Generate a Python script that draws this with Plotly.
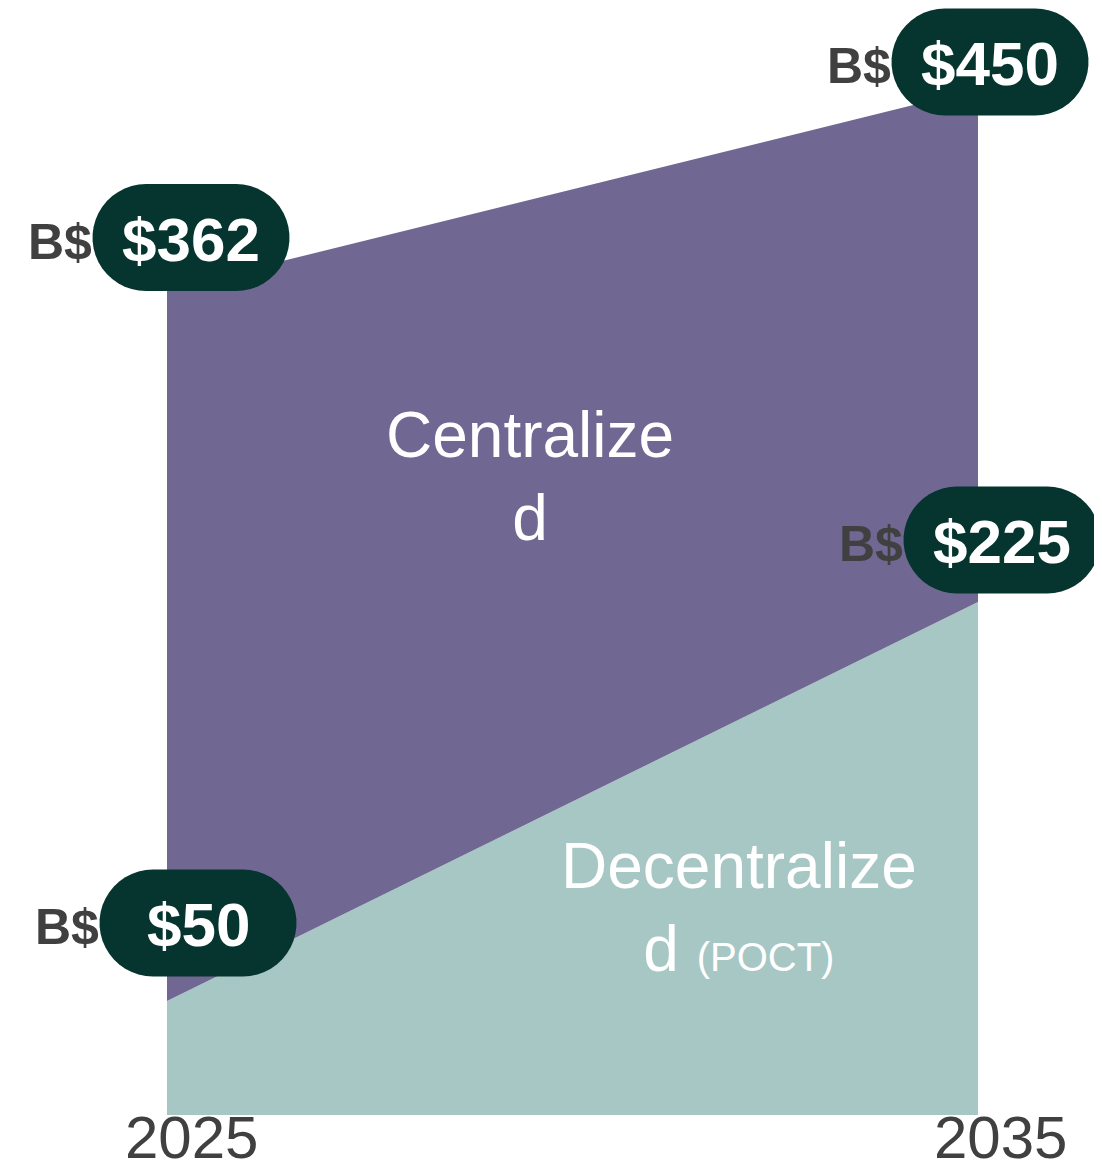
import numpy as np
import plotly.graph_objects as go

# ---- data ----
years = [2025, 2035]
decentralized = [50, 225]
totals = [362, 450]
centralized = [t - d for t, d in zip(totals, decentralized)]
year_labels = ["2025", "2035"]
series_names = ["Decentralized (POCT)", "Centralized"]

# ---- style ----
PURPLE = "#706892"
TEAL = "#A7C7C5"
DARK = "#06342F"
GRAY = "#404040"
FONT = "Liberation Sans, Arial, sans-serif"
Y_MAX = 485.5
X0, X1 = years[0], years[-1]

fig = go.Figure()
fig.add_trace(go.Scatter(x=years, y=decentralized, stackgroup="one", mode="lines",
                         line=dict(width=0), fillcolor=TEAL, name=series_names[0],
                         hoverinfo="skip"))
fig.add_trace(go.Scatter(x=years, y=centralized, stackgroup="one", mode="lines",
                         line=dict(width=0), fillcolor=PURPLE, name=series_names[1],
                         hoverinfo="skip"))


def stadium_path(cx, cy, w, h, n=24):
    r = h / 2.0
    pts = []
    for a in np.linspace(-np.pi / 2, np.pi / 2, n):
        pts.append((cx + w / 2 - r + r * np.cos(a), cy + r * np.sin(a)))
    for a in np.linspace(np.pi / 2, 3 * np.pi / 2, n):
        pts.append((cx - w / 2 + r + r * np.cos(a), cy + r * np.sin(a)))
    return "M " + " L ".join(f"{x:.2f},{y:.2f}" for x, y in pts) + " Z"


# pill labels: (x year, y value, text, xshift, yshift)
pills = [
    (years[0], totals[0], f"${totals[0]}", 24, 52),
    (years[1], totals[1], f"${totals[1]}", 12, 27),
    (years[1], decentralized[1], f"${decentralized[1]}", 24, 62),
    (years[0], decentralized[0], f"${decentralized[0]}", 31, 78),
]
PW, PH = 197, 107
for x, y, txt, dx, dy in pills:
    fig.add_shape(type="path", xref="paper", yref="paper", xsizemode="pixel", ysizemode="pixel",
                  xanchor=(x - X0) / (X1 - X0), yanchor=y / Y_MAX,
                  path=stadium_path(dx, dy, PW, PH),
                  fillcolor=DARK, line=dict(width=0), layer="above")
    fig.add_annotation(x=x, y=y, xref="x", yref="y", text=f"<b>{txt}</b>", showarrow=False,
                       xshift=dx, yshift=dy - 2, xanchor="center", yanchor="middle",
                       font=dict(family=FONT, size=62, color="white"))
    fig.add_annotation(x=x, y=y, xref="x", yref="y", text="<b>B$</b>", showarrow=False,
                       xshift=dx - PW / 2 + 1, yshift=dy - 4, xanchor="right", yanchor="middle",
                       font=dict(family=FONT, size=50, color=GRAY))

# year labels
for x, lab, dx, dy in [(years[0], year_labels[0], 24, -22), (years[1], year_labels[1], 22, -22)]:
    fig.add_annotation(x=x, y=0, xref="x", yref="y", text=lab, showarrow=False,
                       xshift=dx, yshift=dy, xanchor="center", yanchor="middle",
                       font=dict(family=FONT, size=60, color=GRAY))

# area labels
fig.add_annotation(x=2029.48, y=280, xref="x", yref="y", text="Centralize<br>d",
                   showarrow=False, xanchor="center", yanchor="middle", align="center",
                   font=dict(family=FONT, size=64, color="white"))
fig.add_annotation(x=2032.05, y=91, xref="x", yref="y",
                   text="Decentralize<br>d <span style='font-size:40px'>(POCT)</span>",
                   showarrow=False, xanchor="center", yanchor="middle", align="center",
                   font=dict(family=FONT, size=64, color="white"))

fig.update_layout(
    width=1102, height=1169,
    margin=dict(l=159, r=132, t=0, b=62),
    paper_bgcolor="white", plot_bgcolor="white",
    showlegend=False,
    xaxis=dict(range=[X0, X1], visible=False, fixedrange=True),
    yaxis=dict(range=[0, Y_MAX], visible=False, fixedrange=True),
)

fig.write_html("out.html")
